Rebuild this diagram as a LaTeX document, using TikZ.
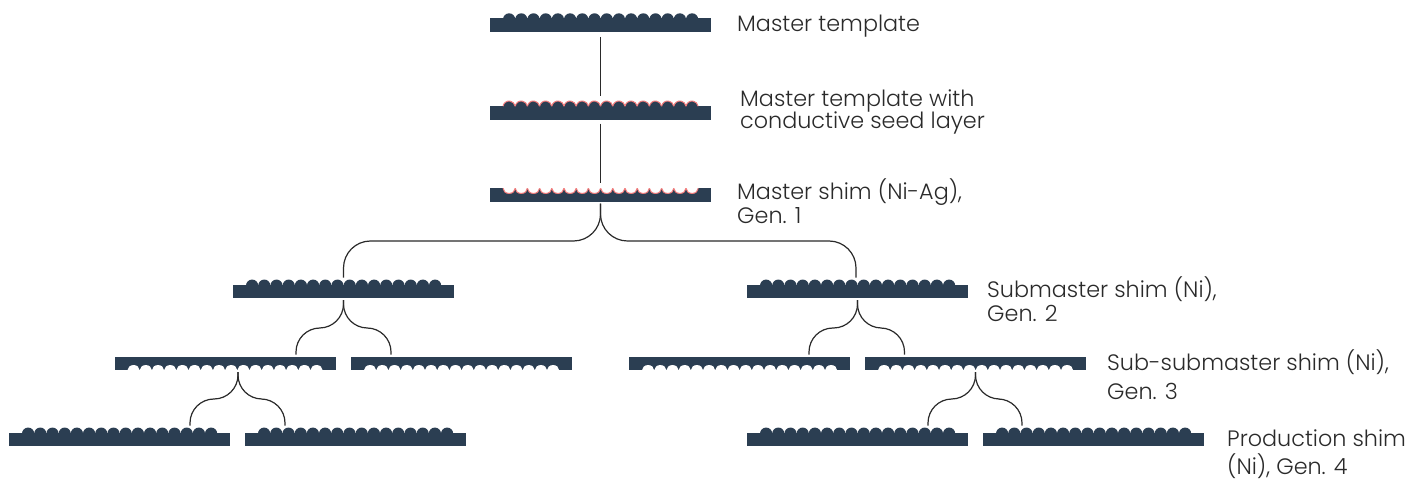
\documentclass[tikz,border=0pt]{standalone}
\usepackage{fontspec}
\setmainfont{Poppins}[UprightFont=* Light]
\definecolor{shimblue}{HTML}{2B3E52}
\definecolor{seedred}{HTML}{F27C7C}
\definecolor{inkgrey}{HTML}{2A2A2A}
\tikzset{
    shimbar/.style={fill=shimblue, minimum width=221pt, minimum height=13.5pt, inner sep=0pt, outer sep=2pt},
    conn/.style={line width=1.2pt, inkgrey},
    fork/.style={conn, rounded corners=24pt},
    gapped/.style={shorten >=5pt},
    shimlabel/.style={anchor=west, align=left, text=inkgrey, font=\fontsize{22.3}{24}\selectfont, inner sep=0pt}
}
% bumps on top of the bar
\newcommand{\bumps}[1]{
    \begin{scope}[shift={(#1.north west)}, shift={(2,-2)}]
        \foreach \i in {0,...,15}
            \fill[shimblue] (19.1+12.2*\i,-0.9) circle (6.1);
    \end{scope}
}
% same, with the seed layer on them
\newcommand{\seedbumps}[1]{
    \begin{scope}[shift={(#1.north west)}, shift={(2,-2)}]
        \foreach \i in {0,...,15} {
            \fill[shimblue] (19.1+12.2*\i,-0.9) circle (6.1);
            \draw[seedred, line width=1pt] (13.05+12.2*\i,0) arc (172:8:6.1);
        }
    \end{scope}
}
% hollows in the top of the bar, lined with the seed layer
\newcommand{\seedhollows}[1]{
    \begin{scope}[shift={(#1.north west)}, shift={(2,-2)}]
        \foreach \i in {0,...,15} {
            \fill[white] (13+12.2*\i,0) arc (180:360:6.1 and 5.2) -- cycle;
            \draw[seedred, line width=1pt] (13+12.2*\i,0) arc (180:360:6.1 and 5.2);
        }
    \end{scope}
}
% hollows in the bottom of the bar
\newcommand{\hollows}[1]{
    \begin{scope}[shift={(#1.south west)}, shift={(2,2)}]
        \foreach \i in {0,...,15}
            \fill[white] (13+12.2*\i,0) arc (180:0:6.1 and 5.2) -- cycle;
    \end{scope}
}

\begin{document}
\begin{tikzpicture}[x=1pt, y=1pt]
    \useasboundingbox (0,0) rectangle (1427,482);
    % shims
    \node[shimbar] (master) at (600.5,456.75) {};
    \node[shimbar] (seed) at (600.5,369) {};
    \node[shimbar] (mshim) at (600.5,287) {};
    \node[shimbar] (subl) at (343.5,190.5) {};
    \node[shimbar] (subr) at (857.5,190.5) {};
    \node[shimbar] (ssuba) at (225,118.5) {};
    \node[shimbar] (ssubb) at (461.5,118.5) {};
    \node[shimbar] (ssubc) at (739.5,118.5) {};
    \node[shimbar] (ssubd) at (975.5,118.5) {};
    \node[shimbar] (proda) at (119.5,42.5) {};
    \node[shimbar] (prodb) at (355.5,42.5) {};
    \node[shimbar] (prodc) at (857.5,42.5) {};
    \node[shimbar] (prodd) at (1093.5,42.5) {};
    \bumps{master}
    \seedbumps{seed}
    \seedhollows{mshim}
    \bumps{subl}
    \bumps{subr}
    \hollows{ssuba}
    \hollows{ssubb}
    \hollows{ssubc}
    \hollows{ssubd}
    \bumps{proda}
    \bumps{prodb}
    \bumps{prodc}
    \bumps{prodd}
    % forks
    \coordinate (joina) at (600.5,241);
    \coordinate (joinb) at (343.5,154);
    \coordinate (joinc) at (857.5,154);
    \coordinate (joind) at (238,83);
    \coordinate (joine) at (975.5,83);
    \draw[conn, shorten <=3pt, shorten >=8.5pt] (master.south) -- (seed.north);
    \draw[conn, shorten <=2pt, shorten >=3pt] (seed.south) -- (mshim.north);
    \draw[fork, rounded corners=27pt, gapped] (mshim.south) -- (joina) -| (subl.north);
    \draw[fork, rounded corners=27pt, gapped] (mshim.south) -- (joina) -| ([xshift=-1.5pt]subr.north);
    \draw[fork] (subl.south) -- (joinb) -| ([xshift=71pt]ssuba.north);
    \draw[fork] (subl.south) -- (joinb) -| ([xshift=-70.5pt]ssubb.north);
    \draw[fork] (subr.south) -- (joinc) -| ([xshift=69.5pt]ssubc.north);
    \draw[fork] (subr.south) -- (joinc) -| ([xshift=-71pt]ssubd.north);
    \draw[fork, gapped] ([xshift=13pt]ssuba.south) -- (joind) -| ([xshift=70.5pt]proda.north);
    \draw[fork, gapped] ([xshift=13pt]ssuba.south) -- (joind) -| ([xshift=-70.5pt]prodb.north);
    \draw[fork, gapped] (ssubd.south) -- (joine) -| ([xshift=70.5pt]prodc.north);
    \draw[fork, gapped] (ssubd.south) -- (joine) -| ([xshift=-71.5pt]prodd.north);
    % labels
    \node[shimlabel] (lmaster) at (737,456) {Master template};
    \node[shimlabel] (lseed) at (740,370) {Master template with\\[-2pt]conductive seed layer};
    \node[shimlabel] (lmshim) at (737,281) {Master shim (Ni-Ag),\\Gen. 1};
    \node[shimlabel] (lsub) at (987,183) {Submaster shim (Ni),\\Gen. 2};
    \node[shimlabel] (lssub) at (1107,107.5) {Sub-submaster shim (Ni),\\[5pt]Gen. 3};
    \node[shimlabel] (lprod) at (1227,27.5) {Production shim\\[4pt](Ni), Gen. 4};
\end{tikzpicture}
\end{document}
